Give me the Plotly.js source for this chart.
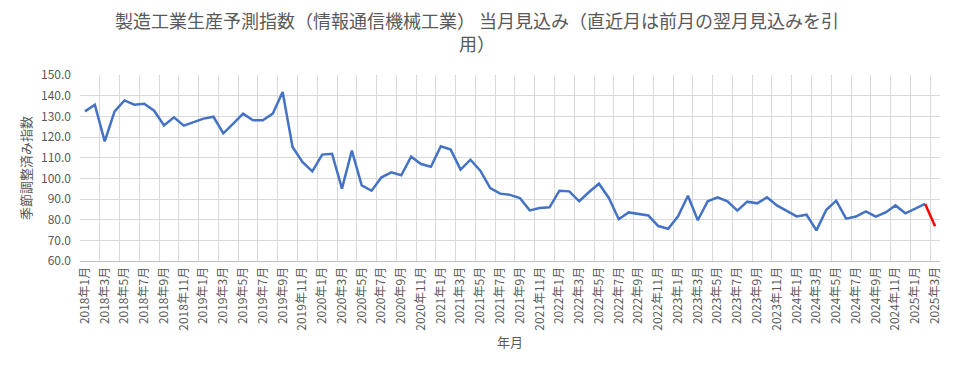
<!DOCTYPE html>
<html>
<head>
<meta charset="utf-8">
<script src="https://cdn.plot.ly/plotly-3.0.1.min.js"></script>
<style>html,body{margin:0;padding:0;background:#fff;}#chart{width:954px;height:368px;}</style>
</head>
<body>
<div id="chart"></div>
<script>
var months = [
"2018年1月","2018年2月","2018年3月","2018年4月","2018年5月","2018年6月","2018年7月","2018年8月","2018年9月","2018年10月","2018年11月","2018年12月",
"2019年1月","2019年2月","2019年3月","2019年4月","2019年5月","2019年6月","2019年7月","2019年8月","2019年9月","2019年10月","2019年11月","2019年12月",
"2020年1月","2020年2月","2020年3月","2020年4月","2020年5月","2020年6月","2020年7月","2020年8月","2020年9月","2020年10月","2020年11月","2020年12月",
"2021年1月","2021年2月","2021年3月","2021年4月","2021年5月","2021年6月","2021年7月","2021年8月","2021年9月","2021年10月","2021年11月","2021年12月",
"2022年1月","2022年2月","2022年3月","2022年4月","2022年5月","2022年6月","2022年7月","2022年8月","2022年9月","2022年10月","2022年11月","2022年12月",
"2023年1月","2023年2月","2023年3月","2023年4月","2023年5月","2023年6月","2023年7月","2023年8月","2023年9月","2023年10月","2023年11月","2023年12月",
"2024年1月","2024年2月","2024年3月","2024年4月","2024年5月","2024年6月","2024年7月","2024年8月","2024年9月","2024年10月","2024年11月","2024年12月",
"2025年1月","2025年2月","2025年3月"
];

// 当月見込み（季節調整済み指数）
var actualValues = [
132.4,135.6,117.9,132.4,137.7,135.6,136.1,132.7,125.6,129.5,125.5,127.3,
128.9,129.8,121.8,126.5,131.3,128.1,128.1,131.3,141.8,115.2,107.9,103.4,
111.5,111.9,95.0,113.4,96.6,94.0,100.5,102.9,101.5,110.5,106.9,105.6,
115.5,113.9,104.2,109.0,103.7,95.3,92.6,92.0,90.5,84.5,85.6,86.0,
94.0,93.7,88.9,93.4,97.4,90.5,80.2,83.5,82.6,82.0,76.9,75.6,
81.6,91.6,79.7,88.9,90.8,88.9,84.4,88.7,87.9,90.8,86.9,84.2,
81.6,82.4,74.8,84.8,89.2,80.5,81.5,84.0,81.5,83.5,86.9,83.1,
85.2,87.6
];
// 直近月（前月の翌月見込みを引用）
var latestMonths = ["2025年2月","2025年3月"];
var latestValues = [87.6, 76.8];

var yTicks = [60,70,80,90,100,110,120,130,140,150];

var idx = months.map(function(m,i){return i;});
var xActual = actualValues.map(function(v,i){return i;});
var xLatest = latestMonths.map(function(m){return months.indexOf(m);});
var tickvals = idx.filter(function(i){return i%2===0;});
var ticktext = tickvals.map(function(i){return months[i];});
var gridvals = tickvals.map(function(i){return i-0.5;});

var font = "'Noto Sans CJK JP', 'Noto Sans', sans-serif";

var traces = [
  {x: xActual, y: actualValues, type:'scatter', mode:'lines',
   line:{color:'#4472C4', width:2.5}, hoverinfo:'y', showlegend:false},
  {x: xLatest, y: latestValues, type:'scatter', mode:'lines',
   line:{color:'#FF0000', width:2.5}, hoverinfo:'y', showlegend:false}
];

var layout = {
  width:954, height:368,
  paper_bgcolor:'#fff', plot_bgcolor:'#fff',
  margin:{l:80, r:14, t:75, b:107},
  font:{family:font, color:'#595959', size:12},
  title:{text:'製造工業生産予測指数（情報通信機械工業） 当月見込み（直近月は前月の翌月見込みを引<br>用）',
         x:0.5, xanchor:'center', xref:'container', y:0.925, yanchor:'top', yref:'container',
         font:{family:font, size:18, color:'#595959'}},
  xaxis:{
    range:[-0.5, months.length-0.5], tickmode:'array', tickvals:tickvals, ticktext:ticktext,
    tickangle:-90, showgrid:false, zeroline:false,
    showline:true, linecolor:'#bfbfbf', linewidth:1, ticks:'',
    tickfont:{family:font, size:12, color:'#595959'},
    minor:{tickmode:'array', tickvals:gridvals, showgrid:true, gridcolor:'#d9d9d9', gridwidth:1, ticks:''},
    title:{text:'年月', font:{family:font, size:13, color:'#595959'}, standoff:8}
  },
  yaxis:{
    range:[60,150], tickmode:'array', tickvals:yTicks,
    tickformat:'.1f', showgrid:true, gridcolor:'#d9d9d9', gridwidth:1,
    zeroline:false, showline:false, ticks:'', ticklabelstandoff:8,
    tickfont:{family:font, size:12, color:'#595959'},
    title:{text:'季節調整済み指数', font:{family:font, size:13, color:'#595959'}, standoff:6}
  }
};

Plotly.newPlot('chart', traces, layout, {displayModeBar:false, staticPlot:true});
</script>
</body>
</html>
